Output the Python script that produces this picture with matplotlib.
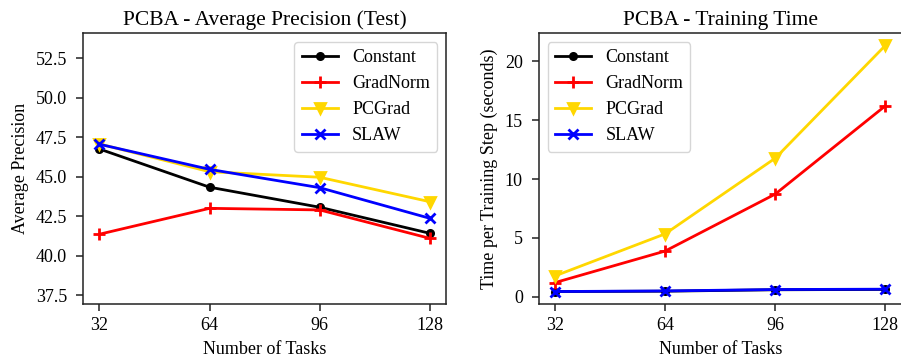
import matplotlib
matplotlib.use("Agg")
import matplotlib.pyplot as plt

plt.rcParams['font.family'] = ['Liberation Serif', 'DejaVu Serif']
plt.rcParams['mathtext.fontset'] = 'stix'

num_tasks = [32, 64, 96, 128]
methods = ['Constant', 'GradNorm', 'PCGrad', 'SLAW']
colors = ['black', 'red', 'gold', 'blue']
markers = ['o', '+', 'v', 'x']
marker_sizes = [4.5, 8, 7, 7]

# average precision on test set
ap_constant = [46.76, 44.34, 43.07, 41.42]
ap_gradnorm = [41.36, 43.0, 42.9, 41.1]
ap_pcgrad = [47.08, 45.32, 44.97, 43.42]
ap_slaw = [47.06, 45.47, 44.31, 42.37]

# seconds per training step
time_constant = [0.45, 0.48, 0.6, 0.63]
time_gradnorm = [1.21, 3.89, 8.73, 16.23]
time_pcgrad = [1.78, 5.35, 11.78, 21.36]
time_slaw = [0.45, 0.5, 0.62, 0.65]

ap_series = [ap_constant, ap_gradnorm, ap_pcgrad, ap_slaw]
time_series = [time_constant, time_gradnorm, time_pcgrad, time_slaw]

fig, (ax1, ax2) = plt.subplots(1, 2, figsize=(9.01, 3.6), dpi=100)
fig.subplots_adjust(left=0.092, right=1.001, bottom=0.156, top=0.908, wspace=0.254)


def style_axes(ax):
    for sp in ax.spines.values():
        sp.set_linewidth(1.1)
        sp.set_color('#222222')
    ax.tick_params(labelsize=13, length=4.8, width=1.1, color='#222222')
    ax.tick_params(axis='y', pad=6.5)
    ax.tick_params(axis='x', pad=5)


def draw_lines(ax, series):
    for name, vals, c, m, ms in zip(methods, series, colors, markers, marker_sizes):
        ax.plot(num_tasks, vals, color=c, marker=m, markersize=ms,
                markeredgewidth=2, linewidth=2, label=name)


draw_lines(ax1, ap_series)
ax1.set_title('PCBA - Average Precision (Test)', fontsize=15.5)
ax1.set_xlabel('Number of Tasks', fontsize=13, labelpad=5)
ax1.set_ylabel('Average Precision', fontsize=13, labelpad=5)
ax1.set_xticks(num_tasks)
ax1.set_ylim(36.95, 54.1)
ax1.set_yticks([37.5, 40.0, 42.5, 45.0, 47.5, 50.0, 52.5])
style_axes(ax1)
ax1.legend(loc='upper right', fontsize=13)

draw_lines(ax2, time_series)
ax2.set_title('PCBA - Training Time', fontsize=15.5)
ax2.set_xlabel('Number of Tasks', fontsize=13, labelpad=5)
ax2.set_ylabel('Time per Training Step (seconds)', fontsize=13, labelpad=5)
ax2.set_xticks(num_tasks)
style_axes(ax2)
ax2.legend(loc='upper left', fontsize=13)

fig.savefig('out.png', dpi=100)
